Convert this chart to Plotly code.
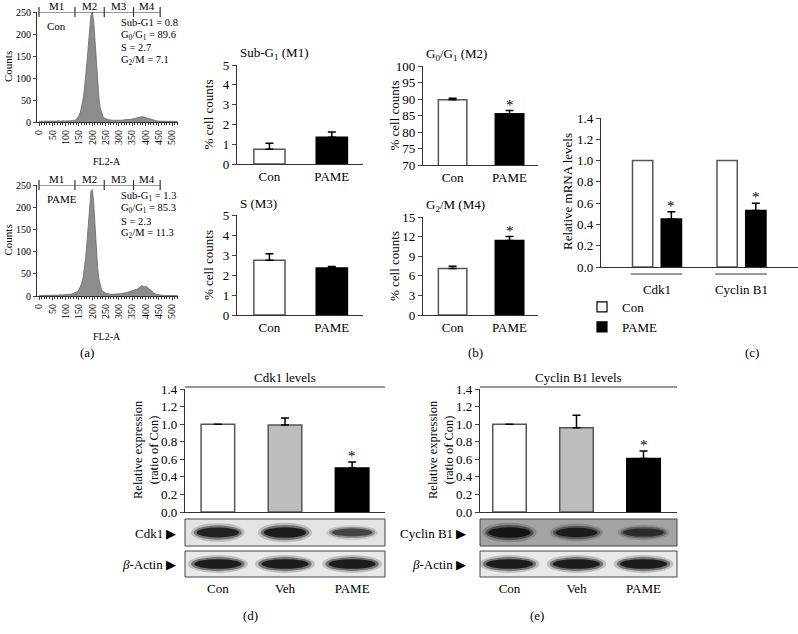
import plotly.graph_objects as go

W, H = 798, 634
SERIF = "Liberation Serif"
INK = "#333333"


def fx(p):
    return p / W


def fy(p):
    return 1 - p / H


# -----------------------
# Data
# -----------------------
# (a) flow cytometry histograms, FL2-A channel, 5-unit bins
fl2_bins = list(range(0, 525, 5))
con_counts = [
    2, 1, 2, 1, 2, 2, 1, 2, 2, 2,
    1, 2, 2, 2, 3, 2, 2, 2, 3, 2,
    2, 3, 3, 2, 3, 3, 4, 4, 6, 9,
    14, 22, 34, 50, 72, 100, 135, 172, 210, 242,
    250, 232, 190, 138, 90, 55, 32, 20, 13, 9,
    7, 6, 5, 5, 4, 4, 4, 4, 4, 3,
    4, 4, 4, 4, 5, 5, 5, 5, 6, 6,
    7, 7, 8, 9, 10, 10, 11, 12, 12, 11,
    11, 10, 9, 8, 6, 5, 4, 3, 3, 2,
    2, 2, 1, 1, 1, 1, 1, 1, 1, 1,
    1, 1, 1, 1, 1,
]
pame_counts = [
    1, 1, 2, 1, 1, 2, 1, 2, 2, 1,
    2, 2, 2, 2, 2, 2, 3, 2, 2, 3,
    3, 3, 3, 4, 4, 5, 6, 7, 8, 10,
    14, 20, 28, 40, 58, 85, 120, 160, 200, 235,
    240, 215, 165, 110, 65, 38, 22, 14, 10, 8,
    6, 5, 5, 4, 4, 4, 4, 4, 4, 5,
    5, 5, 6, 6, 7, 7, 8, 9, 10, 11,
    11, 12, 13, 14, 16, 18, 21, 24, 22, 20,
    22, 21, 18, 15, 12, 9, 7, 5, 4, 3,
    3, 2, 2, 1, 1, 1, 1, 1, 1, 1,
    1, 1, 1, 1, 1,
]
gates = [0, 135, 245, 355, 455]
gate_names = ["M1", "M2", "M3", "M4"]
con_stats = ["Sub-G1 = 0.8", "G<sub>0</sub>/G<sub>1</sub> = 89.6", "S = 2.7", "G<sub>2</sub>/M = 7.1"]
pame_stats = ["Sub-G<sub>1</sub> = 1.3", "G<sub>0</sub>/G<sub>1</sub> = 85.3", "S = 2.3", "G<sub>2</sub>/M = 11.3"]

# (b) cell cycle phases
groups = ["Con", "PAME"]
subg1_mean = [0.75, 1.35]
subg1_err = [0.3, 0.26]
g0g1_mean = [89.8, 85.5]
g0g1_err = [0.45, 1.0]
s_mean = [2.74, 2.35]
s_err = [0.32, 0.08]
g2m_mean = [7.1, 11.4]
g2m_err = [0.38, 0.6]

# (c) mRNA
genes = ["Cdk1", "Cyclin B1"]
mrna_con = [1.0, 1.0]
mrna_pame = [0.45, 0.53]
mrna_pame_err = [0.07, 0.07]

# (d), (e) protein
treatments = ["Con", "Veh", "PAME"]
cdk1_prot = [1.0, 0.99, 0.50]
cdk1_err = [0, 0.08, 0.07]
ccnb1_prot = [1.0, 0.96, 0.61]
ccnb1_err = [0, 0.14, 0.085]
cdk1_band = [0.95, 1.0, 0.7]
actin_band_d = [1.0, 1.0, 1.0]
ccnb1_band = [1.0, 0.9, 0.75]
actin_band_e = [1.0, 1.0, 1.0]

bar_colors = {"Con": "white", "Veh": "#bdbdbd", "PAME": "black"}
bar_lines = {"Con": "#555555", "Veh": "#555555", "PAME": "black"}

fig = go.Figure()
annotations = []
shapes = []


def note(text, x, y, size=13, xanchor="center", yanchor="middle", angle=0, **kw):
    annotations.append(dict(text=text, x=x, y=y, xref=kw.pop("xref", "paper"),
                            yref=kw.pop("yref", "paper"), showarrow=False,
                            xanchor=xanchor, yanchor=yanchor, textangle=angle,
                            font=dict(family=SERIF, size=size, color="black"), **kw))


# -----------------------
# (a) histograms
# -----------------------
def histogram(n, counts, stats, label, top, bottom):
    ax = "" if n == 1 else str(n)
    fig.add_trace(go.Scatter(x=fl2_bins, y=counts, mode="lines", fill="tozeroy",
                             fillcolor="#8c8c8c", line=dict(color="#6a6a6a", width=0.8),
                             xaxis="x" + ax, yaxis="y" + ax, showlegend=False))
    fig.add_trace(go.Scatter(x=gates, y=[250] * len(gates), mode="lines+markers",
                             line=dict(color=INK, width=1),
                             marker=dict(symbol="line-ns", size=7, line=dict(width=1.2, color=INK)),
                             cliponaxis=False, xaxis="x" + ax, yaxis="y" + ax, showlegend=False))
    for i, name in enumerate(gate_names):
        note(name, (gates[i] + gates[i + 1]) / 2, 250, size=11, yanchor="bottom",
             xref="x" + ax, yref="y" + ax, yshift=-2)
    fig.update_layout({
        "xaxis" + ax: dict(domain=[fx(37), fx(178)], range=[-7.5, 522], anchor="y" + ax,
                           tickvals=list(range(0, 550, 50)), tickangle=-90, ticks="outside",
                           ticklen=3, minor=dict(ticks="outside", dtick=10, ticklen=2, tickcolor=INK),
                           showline=True, linecolor=INK, linewidth=1, showgrid=False, zeroline=False,
                           automargin=False, tickfont=dict(family=SERIF, size=10)),
        "yaxis" + ax: dict(domain=[fy(bottom), fy(top)], range=[0, 250], anchor="x" + ax,
                           dtick=50, ticks="outside", ticklen=3, showline=True, linecolor=INK,
                           linewidth=1, showgrid=False, zeroline=False, automargin=False,
                           tickfont=dict(family=SERIF, size=10)),
    })
    note(label, fx(45), fy(top + 14), size=11, xanchor="left")
    for k, t in enumerate(stats):
        note(t, fx(119), fy(top + 11 + k * 12.5), size=10.5, xanchor="left")
    note("Counts", fx(8), fy((top + bottom) / 2), size=11, angle=-90)
    note("FL2-A", fx(107), fy(bottom + 40), size=10)


histogram(1, con_counts, con_stats, "Con", 12, 122)
histogram(2, pame_counts, pame_stats, "PAME", 185, 296)


# -----------------------
# (b) phase bar charts
# -----------------------
def phase_panel(n, means, errs, title, xr, yr, yrange, dtick, star):
    ax = str(n)
    fig.add_trace(go.Bar(x=groups, y=means, width=0.5,
                         marker=dict(color=[bar_colors[g] for g in groups],
                                     line=dict(color=[bar_lines[g] for g in groups], width=1.5)),
                         error_y=dict(type="data", array=errs, arrayminus=[0] * len(errs),
                                      symmetric=False, color="black", thickness=1.5, width=4),
                         xaxis="x" + ax, yaxis="y" + ax, showlegend=False))
    fig.update_layout({
        "xaxis" + ax: dict(domain=[fx(xr[0]), fx(xr[1])], range=[-0.52, 1.5], anchor="y" + ax,
                           showline=True, linecolor=INK, linewidth=1.2, ticks="", automargin=False,
                           tickfont=dict(family=SERIF, size=13, color="black")),
        "yaxis" + ax: dict(domain=[fy(yr[1]), fy(yr[0])], range=yrange, dtick=dtick,
                           anchor="x" + ax, ticks="outside", ticklen=4, showline=True,
                           linecolor=INK, linewidth=1.2, showgrid=False, zeroline=False,
                           automargin=False, tickfont=dict(family=SERIF, size=13, color="black")),
    })
    note(title, fx(xr[0] + 1), fy(yr[0] - 12), size=13, xanchor="left")
    note("% cell counts", fx(xr[0] - 29), fy((yr[0] + yr[1]) / 2), size=13, angle=-90)
    if star:
        note("*", "PAME", means[1] + errs[1], size=15, yanchor="bottom",
             xref="x" + ax, yref="y" + ax, yshift=-4)


phase_panel(3, subg1_mean, subg1_err, "Sub-G<sub>1</sub> (M1)", (237, 363), (65, 164), [0, 5], 1, False)
phase_panel(4, g0g1_mean, g0g1_err, "G<sub>0</sub>/G<sub>1</sub> (M2)", (423, 538), (66, 165), [70, 100], 5, True)
phase_panel(5, s_mean, s_err, "S (M3)", (237, 363), (215, 315), [0, 5], 1, False)
phase_panel(6, g2m_mean, g2m_err, "G<sub>2</sub>/M (M4)", (423, 538), (217, 315), [0, 15], 3, True)

# -----------------------
# (c) mRNA levels
# -----------------------
fig.add_trace(go.Bar(x=genes, y=mrna_con, width=0.24, offset=-0.29, showlegend=False,
                     marker=dict(color="white", line=dict(color="#555555", width=1.5)),
                     xaxis="x7", yaxis="y7"))
fig.add_trace(go.Bar(x=genes, y=mrna_pame, width=0.24, offset=0.05, showlegend=False,
                     marker=dict(color="black", line=dict(color="black", width=1.5)),
                     error_y=dict(type="data", array=mrna_pame_err, arrayminus=[0, 0],
                                  symmetric=False, color="black", thickness=1.5, width=4),
                     xaxis="x7", yaxis="y7"))
# legend keys as small squares
for name in groups:
    fig.add_trace(go.Scatter(x=[None], y=[None], mode="markers", name=name,
                             marker=dict(symbol="square", size=10, color=bar_colors[name],
                                         line=dict(color="black", width=1.2)),
                             xaxis="x7", yaxis="y7"))
fig.update_layout(
    xaxis7=dict(domain=[fx(601), 1], range=[-0.663, 1.669], anchor="y7", showline=True,
                linecolor=INK, linewidth=1.2, ticks="outside", ticklen=10, automargin=False,
                tickcolor="rgba(0,0,0,0)", tickfont=dict(family=SERIF, size=13, color="black")),
    yaxis7=dict(domain=[fy(267), fy(118)], range=[0, 1.4], dtick=0.2, tickformat=".1f",
                anchor="x7", ticks="outside", ticklen=4, showline=True, linecolor=INK,
                linewidth=1.2, showgrid=False, zeroline=False, automargin=False,
                tickfont=dict(family=SERIF, size=13, color="black")),
)
for i, g in enumerate(genes):
    shapes.append(dict(type="line", xref="x7", yref="paper", x0=i - 0.31, x1=i + 0.3,
                       y0=fy(274), y1=fy(274), line=dict(color=INK, width=1.2)))
    note("*", i + 0.17, mrna_pame[i] + mrna_pame_err[i], size=15, yanchor="bottom",
         xref="x7", yref="y7", yshift=-4)
note("Relative mRNA levels", fx(567), fy(192), size=13, angle=-90)


# -----------------------
# (d), (e) protein levels with blots
# -----------------------
def band(ax, i, yc, strength, half_w, half_h):
    for sw, sh, op in [(1.12, 1.5, 0.18), (1.0, 1.15, 0.4), (0.88, 0.8, 0.75)]:
        shapes.append(dict(type="circle", xref="x" + ax, yref="paper",
                           x0=i - half_w * sw, x1=i + half_w * sw,
                           y0=fy(yc + half_h * sh), y1=fy(yc - half_h * sh),
                           fillcolor="black", opacity=op * strength, line=dict(width=0)))


def protein_panel(n, vals, errs, title, xr, xrange, target, target_band, actin_band, blot_bg, label_x):
    ax = str(n)
    fig.add_trace(go.Bar(x=treatments, y=vals, width=0.5,
                         marker=dict(color=[bar_colors[t] for t in treatments],
                                     line=dict(color=[bar_lines[t] for t in treatments], width=1.5)),
                         error_y=dict(type="data", array=errs, arrayminus=[0] * len(errs),
                                      symmetric=False, color="black", thickness=1.5, width=4),
                         xaxis="x" + ax, yaxis="y" + ax, showlegend=False))
    fig.update_layout({
        "xaxis" + ax: dict(domain=[fx(xr[0]), fx(xr[1])], range=xrange, anchor="y" + ax,
                           showline=True, linecolor=INK, linewidth=1.2, ticks="outside",
                           ticklen=64, tickcolor="rgba(0,0,0,0)", automargin=False,
                           tickfont=dict(family=SERIF, size=13, color="black")),
        "yaxis" + ax: dict(domain=[fy(512), fy(389)], range=[0, 1.4], dtick=0.2, tickformat=".1f",
                           anchor="x" + ax, ticks="outside", ticklen=4, showline=True,
                           linecolor=INK, linewidth=1.2, showgrid=False, zeroline=False,
                           automargin=False, tickfont=dict(family=SERIF, size=13, color="black")),
    })
    shapes.append(dict(type="line", xref="x" + ax + " domain", yref="paper", x0=0, x1=1,
                       y0=fy(387), y1=fy(387), line=dict(color=INK, width=1.2)))
    note(title, fx((xr[0] + xr[1]) / 2), fy(377), size=13)
    note("Relative expression<br>(ratio of Con)", fx(xr[0] - 39), fy(450), size=12.5, angle=-90)
    note("*", "PAME", vals[2] + errs[2], size=15, yanchor="bottom",
         xref="x" + ax, yref="y" + ax, yshift=-4)
    # blot frames
    for (y0, y1), bg in [((519, 546), blot_bg), ((551, 577), "#e9e9e9")]:
        shapes.append(dict(type="rect", xref="x" + ax + " domain", yref="paper", x0=0, x1=1,
                           y0=fy(y1), y1=fy(y0), fillcolor=bg, line=dict(color="#444", width=1)))
    for i in range(len(treatments)):
        band(ax, i, 532.5, target_band[i], 0.3 + 0.06 * target_band[i], 5.5 * target_band[i] + 1)
        band(ax, i, 564, actin_band[i], 0.4, 6)
    note(target + " ▶", fx(label_x), fy(533), size=13, xanchor="right")
    note("<i>β</i>-Actin ▶", fx(label_x), fy(564), size=13, xanchor="right")


protein_panel(8, cdk1_prot, cdk1_err, "Cdk1 levels", (185, 385), [-0.49, 2.49],
              "Cdk1", cdk1_band, actin_band_d, "#e4e4e4", 178)
protein_panel(9, ccnb1_prot, ccnb1_err, "Cyclin B1 levels", (480, 677), [-0.44, 2.5],
              "Cyclin B1", ccnb1_band, actin_band_e, "#a4a4a4", 468)

# panel letters
for t, x, y in [("(a)", 87, 352), ("(b)", 475, 352), ("(c)", 752, 352), ("(d)", 250, 615), ("(e)", 537, 615)]:
    note(t, fx(x), fy(y), size=13)

fig.update_layout(
    width=W, height=H, margin=dict(l=0, r=0, t=0, b=0, pad=0, autoexpand=False),
    paper_bgcolor="white", plot_bgcolor="white", barmode="overlay",
    font=dict(family=SERIF, size=13, color="black"),
    annotations=annotations, shapes=shapes,
    legend=dict(x=fx(582), y=fy(292), xanchor="left", yanchor="top", itemwidth=30,
                bgcolor="rgba(0,0,0,0)", font=dict(family=SERIF, size=13), tracegroupgap=0),
)

# browser default body margin would push the figure 8px off the corner
fig.write_html("out.html", config={"displayModeBar": False},
               post_script="document.body.style.margin = '0';")
